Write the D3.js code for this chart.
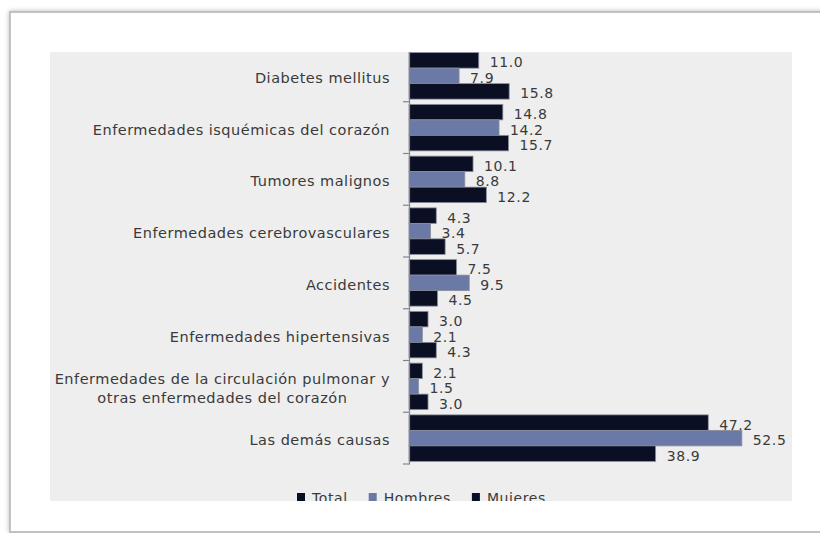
<!DOCTYPE html>
<html>
<head>
<meta charset="utf-8">
<script src="https://cdn.jsdelivr.net/npm/d3@7"></script>
<style>
  body { margin: 0; background: #fff; }
  text { font-family: "DejaVu Sans", sans-serif; fill: #3a3a3a; }
</style>
</head>
<body>
<div id="root"></div>
<script>
// Causes of death, share by sex (%)
const categories = [
  "Diabetes mellitus",
  "Enfermedades isquémicas del corazón",
  "Tumores malignos",
  "Enfermedades cerebrovasculares",
  "Accidentes",
  "Enfermedades hipertensivas",
  "Enfermedades de la circulación pulmonar y\notras enfermedades del corazón",
  "Las demás causas"
];
const seriesNames = ["Total", "Hombres", "Mujeres"];
const totalValues   = [11.0, 14.8, 10.1, 4.3, 7.5, 3.0, 2.1, 47.2];
const hombresValues = [7.9, 14.2, 8.8, 3.4, 9.5, 2.1, 1.5, 52.5];
const mujeresValues = [15.8, 15.7, 12.2, 5.7, 4.5, 4.3, 3.0, 38.9];
const colors = ["#0a0f24", "#6b79a7", "#0a0f24"];

const W = 820, H = 533;
const plot = { x0: 50, y0: 52, x1: 792, y1: 501 };

const svg = d3.select("#root").append("svg")
  .attr("width", W).attr("height", H);

// frame with soft shadow
const defs = svg.append("defs");
const f = defs.append("filter").attr("id", "sh")
  .attr("x", "-5%").attr("y", "-5%").attr("width", "110%").attr("height", "110%");
f.append("feDropShadow").attr("dx", 0).attr("dy", 0)
  .attr("stdDeviation", 2.5).attr("flood-color", "#999").attr("flood-opacity", 0.7);
defs.append("clipPath").attr("id", "plotClip").append("rect")
  .attr("x", plot.x0).attr("y", plot.y0)
  .attr("width", plot.x1 - plot.x0).attr("height", plot.y1 - plot.y0);

svg.append("rect")
  .attr("x", 10).attr("y", 12).attr("width", 900).attr("height", 520)
  .attr("fill", "#fff").attr("stroke", "#bdbdbd").attr("stroke-width", 1.8)
  .attr("filter", "url(#sh)");

svg.append("rect")
  .attr("x", plot.x0).attr("y", plot.y0)
  .attr("width", plot.x1 - plot.x0).attr("height", plot.y1 - plot.y0)
  .attr("fill", "#eeeeee");

const g = svg.append("g").attr("clip-path", "url(#plotClip)");

const data = categories.map((c, i) => ({
  cat: c,
  vals: [totalValues[i], hombresValues[i], mujeresValues[i]]
}));

const y = d3.scaleBand().domain(categories).range([50, 464]).padding(0);
const ySub = d3.scaleBand().domain(seriesNames).range([0, y.bandwidth()])
  .paddingInner(0).paddingOuter(0.17);
const x = d3.scaleLinear().domain([0, 60]).range([409, 409 + 6.34 * 60]);

const groups = g.selectAll(".grp").data(data).enter().append("g")
  .attr("class", "grp")
  .attr("transform", d => `translate(0,${y(d.cat)})`);

// value labels first (bars overlap them, like the original)
groups.selectAll(".val")
  .data(d => d.vals.map((v, k) => ({ v, s: seriesNames[k] })))
  .enter().append("text")
  .attr("class", "val")
  .attr("x", d => x(d.v) + 11)
  .attr("y", d => ySub(d.s) + ySub.bandwidth() / 2 + 2)
  .attr("dominant-baseline", "central")
  .style("font-size", "14px")
  .style("letter-spacing", "0.6px")
  .text(d => d.v.toFixed(1));

groups.selectAll(".bar")
  .data(d => d.vals.map((v, k) => ({ v, k, s: seriesNames[k] })))
  .enter().append("rect")
  .attr("class", "bar")
  .attr("x", x(0))
  .attr("y", d => ySub(d.s))
  .attr("width", d => x(d.v) - x(0))
  .attr("height", ySub.bandwidth())
  .attr("fill", d => colors[d.k])
  .attr("stroke", "#8a8e9a")
  .attr("stroke-width", 0.8);

// category axis
const axis = g.append("g").attr("transform", `translate(${x(0)},0)`)
  .call(d3.axisLeft(y).tickSize(0).tickFormat(""));
axis.select(".domain").attr("stroke", "#7f8593").attr("stroke-width", 1.2);
axis.selectAll(".tick").remove();
axis.selectAll(".bt")
  .data(categories.map(c => y(c)).concat([464]))
  .enter().append("line")
  .attr("x1", -6).attr("x2", 0)
  .attr("y1", d => d).attr("y2", d => d)
  .attr("stroke", "#7f8593").attr("stroke-width", 1.2);

// category labels
g.selectAll(".cat").data(categories).enter().append("text")
  .attr("class", "cat")
  .style("font-size", "14.5px")
  .style("letter-spacing", "0.5px")
  .each(function (c) {
    const lines = c.split("\n");
    const t = d3.select(this);
    const cy = y(c) + y.bandwidth() / 2;
    if (lines.length === 1) {
      t.attr("x", 390).attr("y", cy + 2)
        .attr("text-anchor", "end").attr("dominant-baseline", "central").text(c);
    } else {
      const widths = [];
      lines.forEach(ln => {
        const tmp = t.append("tspan").text(ln);
        widths.push(tmp.node().getComputedTextLength());
        tmp.remove();
      });
      const mid = 390 - d3.max(widths) / 2;
      lines.forEach((ln, i) => {
        t.append("tspan")
          .attr("x", mid).attr("y", cy + 2 + (i - (lines.length - 1) / 2) * 19)
          .attr("text-anchor", "middle").attr("dominant-baseline", "central")
          .text(ln);
      });
    }
  });

// legend (clipped by plot area bottom, as in the original)
const legend = g.append("g");
let lx = 297;
seriesNames.forEach((s, i) => {
  legend.append("rect").attr("x", lx).attr("y", 493)
    .attr("width", 8).attr("height", 8).attr("fill", colors[i]);
  const t = legend.append("text").attr("x", lx + 15).attr("y", 497.5)
    .attr("dominant-baseline", "central")
    .style("font-size", "14px").style("letter-spacing", "0.6px").text(s);
  lx += 15 + t.node().getComputedTextLength() + 21;
});
</script>
</body>
</html>
